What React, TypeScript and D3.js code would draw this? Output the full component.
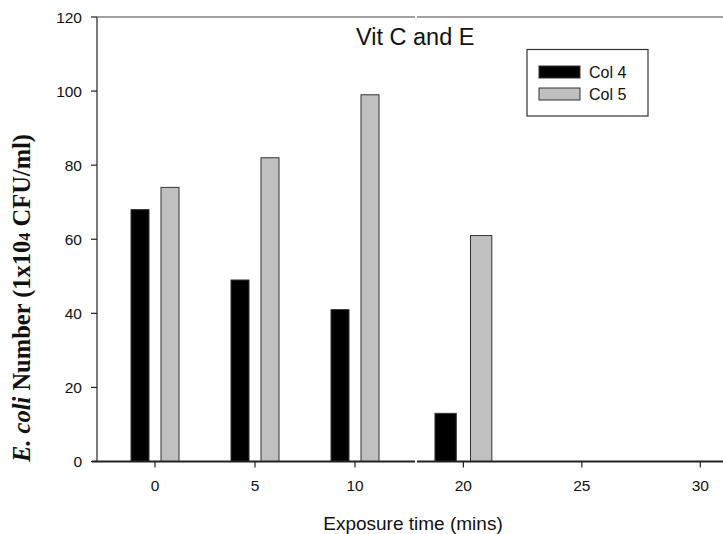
import React from "react";
import * as d3 from "d3";

// Exposure times (minutes) and the two measured series
const exposureTimes = [0, 5, 10, 20];
const col4 = [68, 49, 41, 13];
const col5 = [74, 82, 99, 61];
const seriesNames = ["Col 4", "Col 5"];
const leftTicks = [0, 5, 10];
const rightTicks = [20, 25, 30];
const yTicks = [0, 20, 40, 60, 80, 100, 120];

const W = 723;
const H = 534;

// Broken x axis: two linear segments joined at the break
const xLeft = d3.scaleLinear().domain([-2.9, 13]).range([97, 415]);
const xRight = d3.scaleLinear().domain([18, 31]).range([416, 724]);
const xPos = (v: number) => (v <= 13 ? xLeft(v) : xRight(v));
const y = d3.scaleLinear().domain([0, 120]).range([461.5, 17]);

const barOffsets: [number, number][] = [
  [-1.2, -0.3],
  [0.3, 1.2],
];
const fills = ["#000000", "#c0c0c0"];
const axisColor = "#222";
const sans = "Liberation Sans, Arial, sans-serif";

export default function App() {
  const series = [col4, col5];
  return (
    <svg
      width={W}
      height={H}
      style={{ position: "absolute", left: 0, top: 0, background: "#fff" }}
    >
      {/* bars */}
      {series.map((vals, si) =>
        exposureTimes.map((t, i) => {
          const x0 = xPos(t + barOffsets[si][0]);
          const x1 = xPos(t + barOffsets[si][1]);
          return (
            <rect
              key={`${si}-${i}`}
              x={x0}
              y={y(vals[i])}
              width={x1 - x0}
              height={y(0) - y(vals[i])}
              fill={fills[si]}
              stroke="#333"
              strokeWidth={1}
            />
          );
        })
      )}

      {/* y axis */}
      <line x1={97} x2={97} y1={y(120)} y2={y(0)} stroke={axisColor} strokeWidth={1.2} />
      {yTicks.map((v) => (
        <g key={v}>
          <line x1={91} x2={97} y1={y(v)} y2={y(v)} stroke={axisColor} strokeWidth={1.2} />
          <text
            x={82}
            y={y(v)}
            dy="0.36em"
            textAnchor="end"
            fontFamily={sans}
            fontSize={15.5}
            fill="#111"
          >
            {v}
          </text>
        </g>
      ))}

      {/* top frame line, broken */}
      <line x1={97} x2={xLeft(13)} y1={y(120)} y2={y(120)} stroke="#444" strokeWidth={1.2} />
      <line x1={xRight(18) + 1} x2={W} y1={y(120)} y2={y(120)} stroke="#444" strokeWidth={1.2} />

      {/* x axis, broken */}
      <line x1={92} x2={xLeft(13)} y1={y(0)} y2={y(0)} stroke={axisColor} strokeWidth={1.8} />
      <line x1={xRight(18) + 1} x2={W} y1={y(0)} y2={y(0)} stroke={axisColor} strokeWidth={1.8} />
      {leftTicks.map((v) => (
        <g key={`l${v}`}>
          <line x1={xLeft(v)} x2={xLeft(v)} y1={y(0)} y2={y(0) + 6} stroke={axisColor} strokeWidth={1.2} />
          <text x={xLeft(v)} y={491} textAnchor="middle" fontFamily={sans} fontSize={15.5} fill="#111">
            {v}
          </text>
        </g>
      ))}
      {rightTicks.map((v) => (
        <g key={`r${v}`}>
          <line x1={xRight(v)} x2={xRight(v)} y1={y(0)} y2={y(0) + 6} stroke={axisColor} strokeWidth={1.2} />
          <text x={xRight(v)} y={491} textAnchor="middle" fontFamily={sans} fontSize={15.5} fill="#111">
            {v}
          </text>
        </g>
      ))}

      {/* axis titles */}
      <text x={413} y={530} textAnchor="middle" fontFamily={sans} fontSize={19} fill="#111">
        Exposure time (mins)
      </text>
      <text
        transform={`translate(30, 298) rotate(-90)`}
        textAnchor="middle"
        fontFamily="Liberation Serif, Times New Roman, serif"
        fontWeight="bold"
        fontSize={24.5}
        fill="#111"
      >
        <tspan fontStyle="italic">E. coli</tspan>
        <tspan> Number (1x10</tspan>
        <tspan fontSize={16}>4</tspan>
        <tspan> CFU/ml)</tspan>
      </text>

      {/* title */}
      <text x={356} y={45} fontFamily={sans} fontSize={23.5} fill="#111">
        Vit C and E
      </text>

      {/* legend */}
      <rect x={527} y={49.5} width={121} height={66.5} fill="#fff" stroke="#333" strokeWidth={1.2} />
      {seriesNames.map((name, i) => (
        <g key={name}>
          <rect
            x={539}
            y={66 + i * 22}
            width={41}
            height={12}
            fill={fills[i]}
            stroke="#333"
            strokeWidth={1}
          />
          <text x={589} y={78 + i * 22} fontFamily={sans} fontSize={16} fill="#111">
            {name}
          </text>
        </g>
      ))}
    </svg>
  );
}
